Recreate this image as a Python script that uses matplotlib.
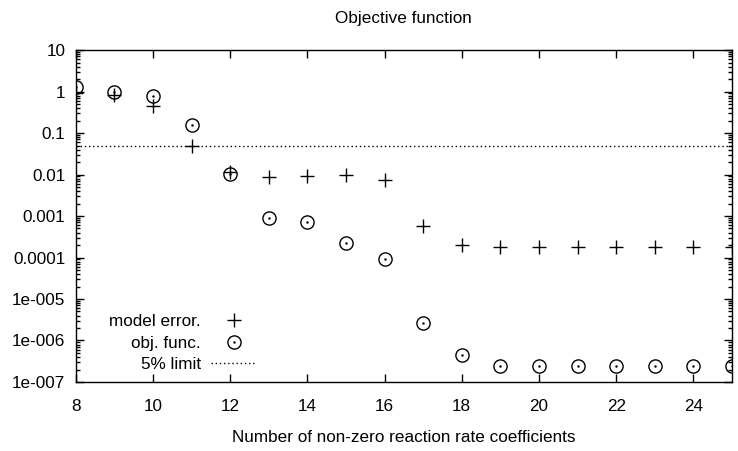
import numpy as np
import matplotlib.pyplot as plt
from matplotlib.ticker import LogLocator, NullFormatter
from matplotlib.legend_handler import HandlerTuple

plt.rcParams['font.family'] = ['Liberation Sans', 'DejaVu Sans']
plt.rcParams['font.size'] = 12.3

# number of non-zero coefficients
n_coef = [8, 9, 10, 11, 12, 13, 14, 15, 16, 17, 18, 19, 20, 21, 22, 23, 24, 25]
model_error = [0.91, 0.83, 0.45, 0.048, 0.0112, 0.0089, 0.0093, 0.0100, 0.0075,
               5.9e-4, 2.05e-4, 1.78e-4, 1.78e-4, 1.78e-4, 1.78e-4, 1.78e-4, 1.78e-4, 1.78e-4]
obj_func = [1.27, 1.0, 0.78, 0.155, 0.0104, 0.00089, 0.00072, 0.00022, 9.3e-5,
            2.6e-6, 4.4e-7, 2.45e-7, 2.45e-7, 2.45e-7, 2.45e-7, 2.45e-7, 2.45e-7, 2.45e-7]
limit = 0.05

ytick_vals = [10, 1, 0.1, 0.01, 0.001, 0.0001, 1e-5, 1e-6, 1e-7]
ytick_labels = ["10", "1", "0.1", "0.01", "0.001", "0.0001", "1e-005", "1e-006", "1e-007"]
xtick_vals = [8, 10, 12, 14, 16, 18, 20, 22, 24]

fig = plt.figure(figsize=(7.38, 4.51), dpi=100)
ax = fig.add_axes([0.1026, 0.153, 0.8893, 0.7361])

plus, = ax.plot(n_coef, model_error, "+", color="black", markersize=10, markeredgewidth=1.0)
circ, = ax.plot(n_coef, obj_func, "o", color="black", markerfacecolor="none", markersize=9.5,
                markeredgewidth=1.0)
dot, = ax.plot(n_coef, obj_func, ".", color="black", markersize=1.5)
lim = ax.axhline(limit, color="black", linewidth=1.0, linestyle=(0, (1, 2)))

ax.set_yscale("log")
ax.set_xlim(8, 25)
ax.set_ylim(1e-7, 10)
ax.set_yticks(ytick_vals)
ax.set_yticklabels(ytick_labels)
ax.yaxis.set_minor_locator(LogLocator(base=10, subs=np.arange(2, 10), numticks=20))
ax.yaxis.set_minor_formatter(NullFormatter())
ax.set_xticks(xtick_vals)

ax.tick_params(which="both", direction="in", top=True, right=True, width=1.0)
ax.tick_params(which="major", length=6)
ax.tick_params(which="minor", length=3)
ax.tick_params(axis="x", pad=12.5)
ax.tick_params(axis="y", pad=7.5)
for s in ax.spines.values():
    s.set_linewidth(1.0)

ax.set_title("Objective function", pad=19.5, fontsize=12.3)
ax.set_xlabel("Number of non-zero reaction rate coefficients", labelpad=11.5)

ax.legend([plus, (circ, dot), lim], ["model error.", "obj. func.", "5% limit"],
          handler_map={tuple: HandlerTuple(ndivide=1, pad=0)},
          loc="lower left", bbox_to_anchor=(0.03, -0.012),
          frameon=False, markerfirst=False, handlelength=2.65, handletextpad=0.6,
          labelspacing=0.38, borderpad=0.3)

fig.savefig("out.png", dpi=100)
